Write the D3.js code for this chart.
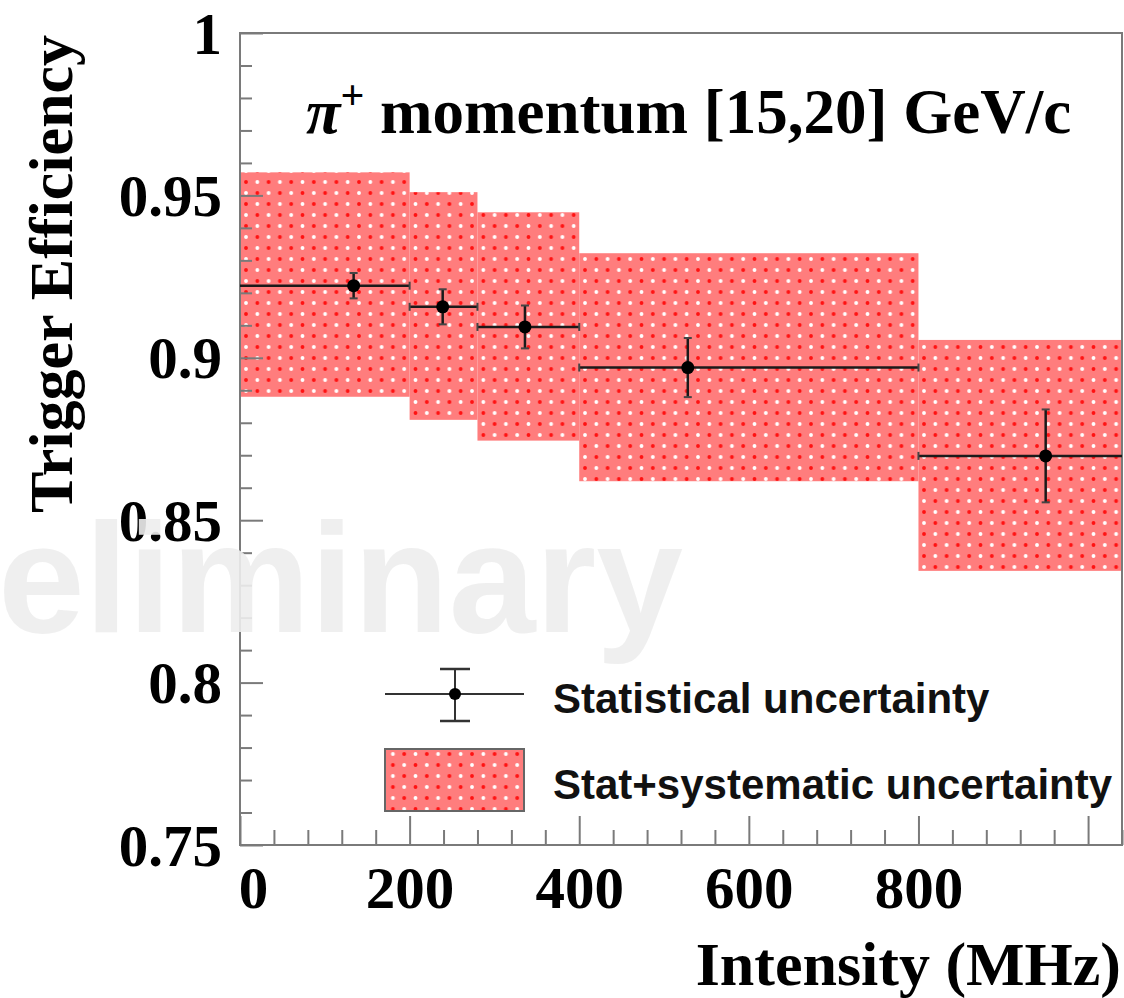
<!DOCTYPE html>
<html>
<head>
<meta charset="utf-8">
<script src="https://cdn.jsdelivr.net/npm/d3@7"></script>
<style>
  html, body { margin: 0; padding: 0; background: #fff; }
  svg { display: block; }
</style>
</head>
<body>
<svg id="chart" width="1124" height="998"></svg>
<script>
// ---------------- data ----------------
const binEdges   = [0, 200, 280, 400, 800, 1040];          // intensity bins (MHz)
const pointX     = [134, 239, 336, 528, 950];              // bin centre of gravity (MHz)
const efficiency = [0.9222, 0.9157, 0.9095, 0.8970, 0.8698];
const statErr    = [0.0039, 0.0054, 0.0066, 0.0091, 0.0143];
const bandLow    = [0.8880, 0.8809, 0.8745, 0.8620, 0.8344];
const bandHigh   = [0.9571, 0.9510, 0.9448, 0.9322, 0.9055];
const xMajorTicks = [0, 200, 400, 600, 800, 1000];
const xTickLabels = ["0", "200", "400", "600", "800", ""];
const yMajorTicks = [0.75, 0.8, 0.85, 0.9, 0.95, 1];
const yTickLabels = ["0.75", "0.8", "0.85", "0.9", "0.95", "1"];
const titleMain  = "\u03C0";
const titleSup   = "+";
const titleRest  = " momentum [15,20] GeV/c";
const xTitle = "Intensity (MHz)";
const yTitle = "Trigger Efficiency";
const legendLabels = ["Statistical uncertainty", "Stat+systematic uncertainty"];
const watermark = "Preliminary";

// ---------------- layout ----------------
const W = 1124, H = 998;
const plot = { left: 240, right: 1122, top: 33, bottom: 845 };
const serif = "'Liberation Serif', 'Times New Roman', Times, serif";
const sans  = "'Liberation Sans', Arial, Helvetica, sans-serif";
const frameColor = "#7a7a7a";

const svg = d3.select("#chart");
const x = d3.scaleLinear().domain([0, 1040]).range([plot.left, plot.right]);
const y = d3.scaleLinear().domain([0.75, 1]).range([plot.bottom, plot.top]);

// pattern for the stat+syst band
const defs = svg.append("defs");
const pw = 22.6, ph = 22, pr = 1.9;
const pat = defs.append("pattern")
  .attr("id", "dots").attr("patternUnits", "userSpaceOnUse")
  .attr("width", pw).attr("height", ph).attr("x", plot.left + 6).attr("y", 6);
pat.append("rect").attr("width", pw).attr("height", ph).attr("fill", "#ff7d7d");
[[0,0],[pw,0],[0,ph],[pw,ph],[pw/2,ph/2]].forEach(([cx, cy]) =>
  pat.append("circle").attr("cx", cx).attr("cy", cy).attr("r", pr).attr("fill", "#ff1212"));
[[pw/2,0],[pw/2,ph],[0,ph/2],[pw,ph/2]].forEach(([cx, cy]) =>
  pat.append("circle").attr("cx", cx).attr("cy", cy).attr("r", pr).attr("fill", "#ffffff"));

// ---------------- bands ----------------
const bands = d3.range(bandLow.length).map(i => ({
  x0: binEdges[i], x1: binEdges[i + 1], lo: bandLow[i], hi: bandHigh[i]
}));
svg.append("g").selectAll("rect").data(bands).join("rect")
  .attr("x", d => x(d.x0))
  .attr("width", d => x(d.x1) - x(d.x0))
  .attr("y", d => y(d.hi))
  .attr("height", d => y(d.lo) - y(d.hi))
  .attr("fill", "url(#dots)");

// ---------------- axes ----------------
const xMinor = d3.range(0, 1041, 40).filter(v => v % 200 !== 0);
const yMinor = d3.range(75, 101, 1).map(v => v / 100).filter(v => Math.round(v * 100) % 5 !== 0);

const gxMinor = svg.append("g").attr("transform", `translate(0,${plot.bottom})`)
  .call(d3.axisBottom(x).tickValues(xMinor).tickSize(-15).tickFormat(""));
const gx = svg.append("g").attr("transform", `translate(0,${plot.bottom})`)
  .call(d3.axisBottom(x).tickValues(xMajorTicks).tickSize(-29)
    .tickFormat((d, i) => xTickLabels[i]));
const gyMinor = svg.append("g").attr("transform", `translate(${plot.left},0)`)
  .call(d3.axisLeft(y).tickValues(yMinor).tickSize(-12).tickFormat(""));
const gy = svg.append("g").attr("transform", `translate(${plot.left},0)`)
  .call(d3.axisLeft(y).tickValues(yMajorTicks).tickSize(-23)
    .tickFormat((d, i) => yTickLabels[i]));

[gxMinor, gx, gyMinor, gy].forEach(g => {
  g.selectAll(".domain").remove();
  g.selectAll("line").attr("stroke", frameColor).attr("stroke-width", 2);
});
gx.selectAll("text")
  .attr("y", 63).attr("dy", null)
  .attr("dx", d => d === 0 ? 13 : 0)
  .attr("font-family", serif).attr("font-weight", "bold")
  .attr("font-size", 59).attr("fill", "#000");
gy.selectAll("text")
  .attr("x", -18).attr("dy", "0.34em")
  .attr("font-family", serif).attr("font-weight", "bold")
  .attr("font-size", 59).attr("fill", "#000");

// frame
svg.append("rect")
  .attr("x", plot.left).attr("y", plot.top)
  .attr("width", plot.right - plot.left).attr("height", plot.bottom - plot.top)
  .attr("fill", "none").attr("stroke", frameColor).attr("stroke-width", 2);

// ---------------- points with stat errors ----------------
const pts = pointX.map((px, i) => ({
  x: px, y: efficiency[i], e: statErr[i], x0: binEdges[i], x1: binEdges[i + 1]
}));
const gp = svg.append("g").attr("stroke", "#1a1a1a").attr("stroke-width", 2.5);
gp.selectAll(".hbar").data(pts).join("line").attr("class", "hbar")
  .attr("x1", d => x(d.x0)).attr("x2", d => Math.min(x(d.x1), plot.right))
  .attr("y1", d => y(d.y)).attr("y2", d => y(d.y));
gp.selectAll(".vbar").data(pts).join("line").attr("class", "vbar")
  .attr("x1", d => x(d.x)).attr("x2", d => x(d.x))
  .attr("y1", d => y(d.y + d.e)).attr("y2", d => y(d.y - d.e));
const capG = svg.append("g").attr("stroke", "#444").attr("stroke-width", 2);
pts.forEach(d => {
  [d.y + d.e, d.y - d.e].forEach(v => {
    capG.append("line").attr("x1", x(d.x) - 4).attr("x2", x(d.x) + 4)
      .attr("y1", y(v)).attr("y2", y(v));
  });
  [d.x0, d.x1].forEach(v => {
    if (x(v) < plot.right - 1 && v > 0)
      capG.append("line").attr("x1", x(v)).attr("x2", x(v))
        .attr("y1", y(d.y) - 4).attr("y2", y(d.y) + 4);
  });
});
svg.append("g").selectAll("circle").data(pts).join("circle")
  .attr("cx", d => x(d.x)).attr("cy", d => y(d.y)).attr("r", 6.5).attr("fill", "#000");

// ---------------- title ----------------
const title = svg.append("text")
  .attr("x", 306).attr("y", 133)
  .attr("font-family", serif).attr("font-weight", "bold")
  .attr("font-size", 63).attr("fill", "#000");
title.append("tspan").attr("font-style", "italic").text(titleMain);
title.append("tspan").attr("font-size", 42).attr("dy", -24).text(titleSup);
title.append("tspan").attr("dy", 24).text(titleRest);

// ---------------- axis titles ----------------
svg.append("text")
  .attr("x", 1121).attr("y", 985).attr("text-anchor", "end")
  .attr("font-family", serif).attr("font-weight", "bold")
  .attr("font-size", 62).attr("fill", "#000").text(xTitle);
svg.append("text")
  .attr("transform", "translate(72,35) rotate(-90)")
  .attr("text-anchor", "end")
  .attr("font-family", serif).attr("font-weight", "bold")
  .attr("font-size", 62).attr("fill", "#000").text(yTitle);

// ---------------- legend ----------------
const lg = svg.append("g");
const lx0 = 385, lx1 = 524, lxc = 455, ly1 = 694;
lg.append("line").attr("x1", lx0).attr("x2", lx1).attr("y1", ly1).attr("y2", ly1)
  .attr("stroke", "#333").attr("stroke-width", 2);
lg.append("line").attr("x1", lxc).attr("x2", lxc).attr("y1", 669).attr("y2", 721)
  .attr("stroke", "#333").attr("stroke-width", 2);
[669, 721].forEach(v => lg.append("line")
  .attr("x1", lxc - 15).attr("x2", lxc + 15).attr("y1", v).attr("y2", v)
  .attr("stroke", "#333").attr("stroke-width", 2.5));
lg.append("circle").attr("cx", lxc).attr("cy", ly1).attr("r", 6).attr("fill", "#000");
lg.append("rect").attr("x", lx0).attr("y", 749).attr("width", lx1 - lx0).attr("height", 62)
  .attr("fill", "url(#dots)").attr("stroke", "#666").attr("stroke-width", 2);
lg.selectAll("text.lab").data(legendLabels).join("text").attr("class", "lab")
  .attr("x", 553).attr("y", (d, i) => i === 0 ? 713 : 799)
  .attr("font-family", sans).attr("font-weight", "bold")
  .attr("font-size", 42).attr("fill", "#111").text(d => d);

// ---------------- watermark ----------------
svg.append("text")
  .attr("x", 683).attr("y", 632).attr("text-anchor", "end")
  .attr("font-family", sans).attr("font-weight", "bold")
  .attr("font-size", 156).attr("fill", "#ededed").attr("fill-opacity", 0.9)
  .text(watermark);
</script>
</body>
</html>
